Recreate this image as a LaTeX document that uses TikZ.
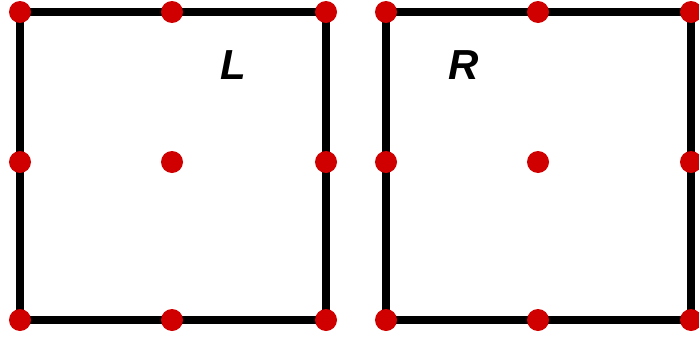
\documentclass[tikz,border=0pt]{standalone}
\usepackage{fontspec}
\setmainfont{Liberation Sans}
\definecolor{dotred}{RGB}{208,0,0}
\begin{document}
\begin{tikzpicture}[x=1pt,y=-1pt,
  edge/.style={line width=7.5pt,black,line cap=rect},
  dot/.style={circle,fill=dotred,inner sep=0pt,minimum size=22pt},
  lbl/.style={font=\fontsize{42}{42}\selectfont\bfseries\itshape,inner sep=0pt}]
\useasboundingbox (0,0) rectangle (699,343);
\clip (0,0) rectangle (699,343);
% left square coordinates
\coordinate (L1) at (20,12);
\coordinate (L2) at (172,12);
\coordinate (L3) at (326,12);
\coordinate (L4) at (20,162);
\coordinate (L5) at (172,162);
\coordinate (L6) at (326,162);
\coordinate (L7) at (20,320);
\coordinate (L8) at (172,320);
\coordinate (L9) at (326,320);
% right square coordinates
\coordinate (R1) at (386,12);
\coordinate (R2) at (538,12);
\coordinate (R3) at (691,12);
\coordinate (R4) at (386,162);
\coordinate (R5) at (538,162);
\coordinate (R6) at (691,162);
\coordinate (R7) at (386,320);
\coordinate (R8) at (538,320);
\coordinate (R9) at (691,320);
% edges
\draw[edge] (L1) -- (L3) -- (L9) -- (L7) -- cycle;
\draw[edge] (R1) -- (R3) -- (R9) -- (R7) -- cycle;
% dots
\foreach \n in {1,...,9} {
  \node[dot] (dL\n) at (L\n) {};
  \node[dot] (dR\n) at (R\n) {};
}
% labels
\node[lbl] (lab L) at (233,65) {L};
\node[lbl] (lab R) at (464,65) {R};
\end{tikzpicture}
\end{document}
